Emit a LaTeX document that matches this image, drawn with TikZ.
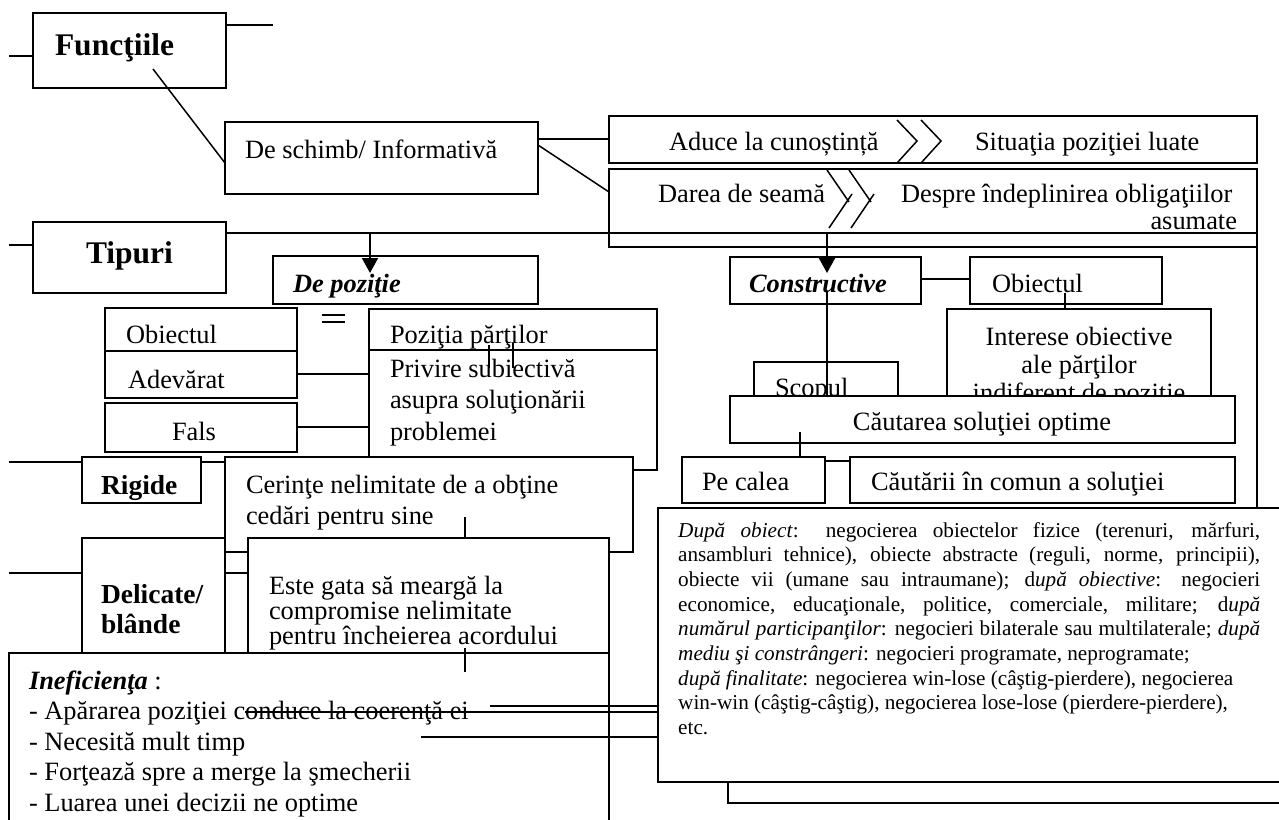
\documentclass[tikz,border=0pt]{standalone}
\usepackage{fontspec}
\setmainfont{Liberation Serif}
\usetikzlibrary{arrows.meta}
\newcommand\fsmain{\fontsize{26.4}{30.5}\selectfont}
\newcommand\fsnote{\fontsize{21.2}{24.7}\selectfont}
\newcommand\fshead{\fontsize{31.5}{36}\selectfont\bfseries}
\newcommand\fsside{\fontsize{27.5}{30}\selectfont\bfseries}
\newcommand\fsbi{\fontsize{26.4}{30.5}\selectfont\bfseries\itshape}
% box with its north-west corner at (x1,y1) and south-east corner at (x2,y2)
\newcommand\mkbox[6][]{\node[bx,minimum width={#5-#3},minimum height={#6-#4},#1] (#2) at (#3,#4) {};}
% one justified line of the note
\newcommand\jline[1]{\makebox[582pt][s]{#1}}
\begin{document}
\begin{tikzpicture}[x=1pt,y=-1pt,
  bx/.style={draw,line width=1.5pt,inner sep=0pt,outer sep=0pt,anchor=north west,fill=white},
  tx/.style={inner sep=0pt,outer sep=0pt,anchor=base west,font=\fsmain},
  lnk/.style={line width=1.5pt},
  thk/.style={line width=1.9pt},
  arr/.style={line width=1.9pt,-{Triangle[length=15pt,width=16pt]}}]
\useasboundingbox (0,0) rectangle (1279,819);
% multi-line texts are placed by the baseline of their last line

% ---------- Funcţiile
\mkbox{fun}{33}{13}{226}{88}
\node[tx,font=\fshead] (funT) at (55,55) {Funcţiile};
\coordinate (funL) at (9,56);
\coordinate (funR) at (273,25);
\draw[lnk] (funL) -- (fun.west |- funL);
\draw[lnk] (fun.east |- funR) -- (funR);

% ---------- De schimb / Informativă
\mkbox{dsc}{225}{122}{538}{194}
\node[tx] (dscT) at (245,158) {De schimb/ Informativă};
\coordinate (funD) at (153,69);
\coordinate (dscIn) at (225,163);
\draw[lnk] (funD) -- (dscIn);

% ---------- Aduce la cunoştinţă / Darea de seamă
\mkbox{adu}{609}{116}{1257}{163}
\mkbox{dar}{609}{169}{1257}{247}
\node[tx] (aduT) at (669,150) {Aduce la cunoștință};
\node[tx] (sitT) at (975,150) {Situaţia poziţiei luate};
\draw[lnk] (897,120) -- (917,141) -- (897,163);
\draw[lnk] (921,120) -- (941,141) -- (921,163);
\node[tx] (darT) at (658,202) {Darea de seamă};
\node[tx] (desT) at (901,202) {Despre îndeplinirea obligaţiilor};
\node[tx,anchor=base east] (asuT) at (1237,229) {asumate};
\draw[lnk] (827,170) -- (849,202);
\draw[lnk] (849,170) -- (871,202);
\draw[lnk] (829,228) -- (852,194);
\draw[lnk] (851,228) -- (874,194);
\coordinate (dscE1) at (538,139);
\coordinate (dscE2) at (538,145);
\coordinate (darIn) at (609,192);
\draw[lnk] (dscE1) -- (adu.west |- dscE1);
\draw[lnk] (dscE2) -- (darIn);

% ---------- Tipuri
\mkbox{tip}{33}{222}{226}{293}
\node[tx,font=\fshead] (tipT) at (86,263) {Tipuri};
\coordinate (tipL) at (9,245);
\draw[lnk] (tipL) -- (tip.west |- tipL);
\coordinate (tipE) at (226,233);
\coordinate (frNE) at (1257,233);
\coordinate (frSE) at (1257,508);
\draw[lnk] (tipE) -- (frNE) -- (frSE);

% ---------- De poziţie
\mkbox{dpz}{273}{256}{538}{304}
\node[tx,font=\fsbi] (dpzT) at (293,292) {De poziţie};
\coordinate (arrA0) at (370,233);
\coordinate (arrA1) at (370,273);
\draw[arr] (arrA0) -- (arrA1);
\draw[lnk] (322,315) -- (345,315);
\draw[lnk] (322,322) -- (345,322);

\mkbox{obl}{105}{308}{297}{351}
\mkbox{adv}{105}{351}{297}{398}
\mkbox{fal}{105}{403}{297}{452}
\node[tx] (oblT) at (126,343) {Obiectul};
\node[tx] (advT) at (128,388) {Adevărat};
\node[tx] (falT) at (172,440) {Fals};
\mkbox{poz}{369}{309}{657}{350}
\mkbox{priv}{369}{350}{657}{470}
\node[tx] (pozT) at (390,343) {Poziţia părţilor};
\node[tx,align=left,font=\fontsize{26.4}{31.5}\selectfont] (privT) at (390,440)
  {Privire subiectivă\\asupra soluţionării\\problemei};
\draw[lnk] (489,345) -- (489,368);
\draw[lnk] (513,343) -- (513,368);
\coordinate (advE) at (297,374);
\coordinate (falE) at (297,427);
\draw[lnk] (advE) -- (priv.west |- advE);
\draw[lnk] (falE) -- (priv.west |- falE);

% ---------- Rigide
\coordinate (rigL) at (9,462);
\mkbox{rig}{82}{457}{201}{503}
\draw[lnk] (rigL) -- (rig.west |- rigL);
\node[tx,font=\fsside] (rigT) at (101,494) {Rigide};
\mkbox{cer}{225}{457}{633}{552}
\draw[lnk] (rig.east |- rigL) -- (cer.west |- rigL);
\node[tx,align=left,font=\fontsize{26.4}{31.5}\selectfont] (cerT) at (246,524.5)
  {Cerinţe nelimitate de a obţine\\cedări pentru sine};
\draw[lnk] (465,517) -- (465,538);

% ---------- Delicate / blânde
\coordinate (delL) at (9,573);
\mkbox{del}{82}{538}{225}{653}
\draw[lnk] (delL) -- (del.west |- delL);
\node[tx,font=\fsside,align=left] (delT) at (101,633) {Delicate/\\blânde};
\mkbox{este}{248}{538}{609}{653}
\draw[lnk] (del.east |- delL) -- (este.west |- delL);
\node[tx,align=left,font=\fontsize{26.4}{20}\selectfont] (esteT) at (269,644)
  {Este gata să meargă la\\compromise nelimitate\\pentru încheierea acordului};

% ---------- Ineficienţa
\mkbox{inef}{9}{653}{609}{840}
\node[tx,align=left] (inefT) at (29,811)
  {\textbf{\textit{Ineficienţa}} :\\- Apărarea poziţiei conduce la coerenţă ei\\- Necesită mult timp\\- Forţează spre a merge la şmecherii\\- Luarea unei decizii ne optime};
\draw[lnk] (465,648) -- (465,672);

% ---------- Constructive
\mkbox{cons}{730}{257}{921}{304}
\node[tx,font=\fsbi] (consT) at (749,292) {Constructive};
\coordinate (arrB0) at (827,233);
\coordinate (arrB1) at (827,273);
\draw[arr] (arrB0) -- (arrB1);
\mkbox{obr}{970}{257}{1162}{304}
\node[tx] (obrT) at (992,292) {Obiectul};
\coordinate (consE) at (921,279);
\draw[lnk] (consE) -- (obr.west |- consE);
\mkbox{int}{947}{309}{1211}{420}
\node[tx,anchor=base,align=center,font=\fontsize{26.4}{28}\selectfont] (intT) at (1079,401)
  {Interese obiective\\ale părţilor\\indiferent de poziţie};
\draw[lnk] (1065,293) -- (1065,309);
\mkbox{scop}{754}{362}{898}{420}
\node[tx] (scopT) at (775,396) {Scopul};
\draw[lnk] (827,292) -- (827,396);
\mkbox{caut}{730}{396}{1235}{443}
\node[tx,anchor=base] (cautT) at (982,430) {Căutarea soluţiei optime};
\draw[lnk] (800,432) -- (800,457);
\mkbox{pec}{682}{457}{825}{503}
\node[tx] (pecT) at (702,490) {Pe calea};
\mkbox{cc}{850}{457}{1235}{503}
\node[tx] (ccT) at (871,490) {Căutării în comun a soluţiei};
\coordinate (pecE) at (825,461);
\draw[lnk] (pecE) -- (cc.west |- pecE);

% ---------- note on the kinds of negotiation
\mkbox{bot}{728}{700}{1300}{803}
\mkbox{note}{658}{508}{1300}{782}
\node[inner sep=0pt,anchor=base west,font=\fsnote,align=left] (noteT) at (678,734.6)
  {\jline{\textit{După obiect}: negocierea obiectelor fizice (terenuri, mărfuri,}\\
   \jline{ansambluri tehnice), obiecte abstracte (reguli, norme, principii),}\\
   \jline{obiecte vii (umane sau intraumane); d\textit{upă obiective}: negocieri}\\
   \jline{economice, educaţionale, politice, comerciale, militare; d\textit{upă}}\\
   \jline{\textit{numărul participanţilor}: negocieri bilaterale sau multilaterale; \textit{după}}\\
   \textit{mediu şi constrângeri}: negocieri programate, neprogramate;\\
   \textit{după finalitate}: negocierea win-lose (câştig-pierdere), negocierea\\
   win-win (câştig-câştig), negocierea lose-lose (pierdere-pierdere),\\
   etc.};

% ---------- links from the list to the note
\coordinate (lA) at (490,706);
\coordinate (lB) at (245,712);
\coordinate (lC) at (421,737);
\draw[thk] (lA) -- (note.west |- lA);
\draw[thk] (lB) -- (note.west |- lB);
\draw[thk] (lC) -- (note.west |- lC);
\end{tikzpicture}
\end{document}
